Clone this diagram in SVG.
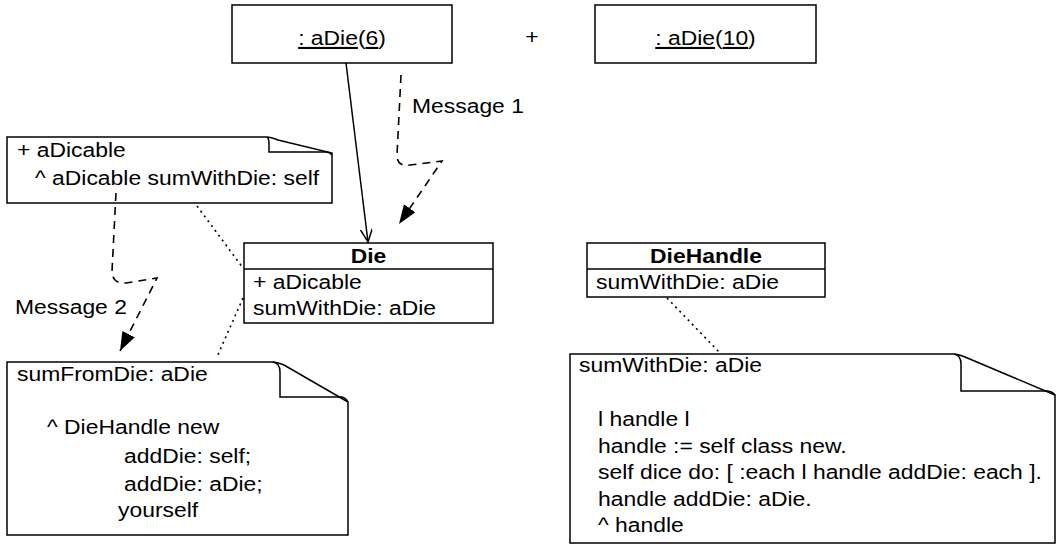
<svg xmlns="http://www.w3.org/2000/svg" width="1056" height="545" viewBox="0 0 1056 545">
<style>
.box{fill:#fff;stroke:#000;stroke-width:1.5}
.ln{fill:none;stroke:#000;stroke-width:1.5}
.t{font-family:"Liberation Sans",Arial,Helvetica,sans-serif;font-size:21px;fill:#000}
.b{font-weight:bold}
.m{text-anchor:middle}
.u{text-decoration:underline}
.dash{fill:none;stroke:#000;stroke-width:1.6;stroke-dasharray:8,6}
.dot{fill:none;stroke:#000;stroke-width:1.6;stroke-dasharray:2,4}
</style>
<defs>
<marker id="filled" markerUnits="userSpaceOnUse" markerWidth="20" markerHeight="16" refX="19" refY="7" orient="auto">
<path d="M0,0 L19,7 L0,14 Z" fill="#000"/>
</marker>
<marker id="open" markerUnits="userSpaceOnUse" markerWidth="16" markerHeight="14" refX="13" refY="6" orient="auto">
<path d="M0,0 L13,6 L0,12" fill="none" stroke="#000" stroke-width="1.5"/>
</marker>
</defs>

<g id="obj1">
<rect class="box" x="232" y="5" width="220" height="58"/>
<text class="t m" transform="translate(342,45) scale(1.09,1)"><tspan class="u">: aDie</tspan>(<tspan class="u">6</tspan>)</text>
</g>
<g id="plus">
<text class="t m" transform="translate(532,44) scale(1.09,1)">+</text>
</g>
<g id="obj2">
<rect class="box" x="595" y="5" width="221" height="58"/>
<text class="t m" transform="translate(705.5,45) scale(1.09,1)"><tspan class="u">: aDie</tspan>(<tspan class="u">10</tspan>)</text>
</g>

<g id="note1">
<path class="box" d="M7,137 H266 Q271,137 278,140 L332,153 V203 H7 Z"/>
<path class="ln" d="M267,137 Q269,138 269,145 V152 H326 Q330,152 332,155"/>
<text class="t" transform="translate(17,157) scale(1.09,1)">+ aDicable</text>
<text class="t" transform="translate(35,185) scale(1.09,1)">^ aDicable sumWithDie: self</text>
</g>

<g id="die">
<rect class="box" x="244" y="243" width="249" height="80"/>
<line class="ln" x1="244" y1="269" x2="493" y2="269"/>
<text class="t b m" transform="translate(368.5,263) scale(1.09,1)">Die</text>
<text class="t" transform="translate(253,289) scale(1.09,1)">+ aDicable</text>
<text class="t" transform="translate(253,315) scale(1.09,1)">sumWithDie: aDie</text>
</g>

<g id="diehandle">
<rect class="box" x="587" y="243" width="238" height="54"/>
<line class="ln" x1="587" y1="269" x2="825" y2="269"/>
<text class="t b m" transform="translate(706,263) scale(1.09,1)">DieHandle</text>
<text class="t" transform="translate(596,289) scale(1.09,1)">sumWithDie: aDie</text>
</g>

<g id="note2">
<path class="box" d="M7,362 H272 Q277,362 284,365 L348,402 V535 H7 Z"/>
<path class="ln" d="M273,362 Q280,363 280,372 V397 H342 Q346,398 348,402"/>
<text class="t" transform="translate(17,381) scale(1.09,1)">sumFromDie: aDie</text>
<text class="t" transform="translate(47,434) scale(1.09,1)">^ DieHandle new</text>
<text class="t" transform="translate(124,463) scale(1.09,1)">addDie: self;</text>
<text class="t" transform="translate(124,491) scale(1.09,1)">addDie: aDie;</text>
<text class="t" transform="translate(118,517) scale(1.09,1)">yourself</text>
</g>

<g id="note3">
<path class="box" d="M570,354 H953 Q958,354 965,357 L1055,395 V543 H570 Z"/>
<path class="ln" d="M954,354 Q961,355 961,364 V391 H1048 Q1053,392 1055,395"/>
<text class="t" transform="translate(579,372) scale(1.09,1)">sumWithDie: aDie</text>
<text class="t" transform="translate(598,426) scale(1.09,1)">l handle l</text>
<text class="t" transform="translate(598,453) scale(1.09,1)">handle := self class new.</text>
<text class="t" transform="translate(598,479) scale(1.09,1)">self dice do: [ :each l handle addDie: each ].</text>
<text class="t" transform="translate(598,506) scale(1.09,1)">handle addDie: aDie.</text>
<text class="t" transform="translate(598,532) scale(1.09,1)">^ handle</text>
</g>

<g id="connectors">
<line class="ln" x1="346" y1="63" x2="368" y2="242" marker-end="url(#open)"/>
<path class="dash" d="M401,75 L397,155 Q397,167 410,165 L442,161 L399,224" marker-end="url(#filled)"/>
<text class="t" transform="translate(412,113) scale(1.09,1)">Message 1</text>
<path class="dash" d="M116,193 L112,271 Q112,284 126,283 L157,278 L120,351" marker-end="url(#filled)"/>
<text class="t" transform="translate(15,314) scale(1.09,1)">Message 2</text>
<line class="dot" x1="197" y1="206" x2="243" y2="268"/>
<line class="dot" x1="243" y1="298" x2="217" y2="357"/>
<line class="dot" x1="667" y1="298" x2="720" y2="353"/>
</g>
</svg>
